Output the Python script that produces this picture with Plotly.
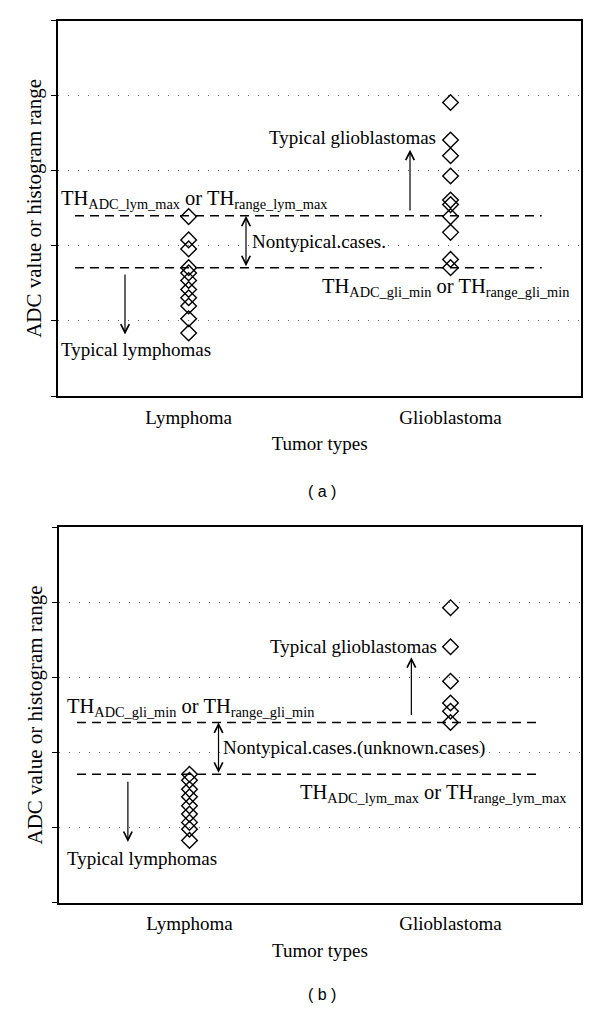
import plotly.graph_objects as go

categories = ["Lymphoma", "Glioblastoma"]
y_ticks = [0, 1, 2, 3, 4, 5]

# panel (a)
lymphoma_a = [2.39, 2.08, 1.96, 1.71, 1.64, 1.54, 1.42, 1.31, 1.20, 1.03, 0.84]
glioblastoma_a = [3.91, 3.41, 3.20, 2.93, 2.61, 2.55, 2.39, 2.18, 1.82, 1.71]
th_upper_a = 2.40   # TH lym max
th_lower_a = 1.71   # TH gli min

# panel (b)
lymphoma_b = [1.71, 1.63, 1.51, 1.41, 1.29, 1.18, 1.07, 0.98, 0.83]
glioblastoma_b = [3.93, 3.41, 2.95, 2.66, 2.55, 2.40]
th_upper_b = 2.40   # TH gli min
th_lower_b = 1.71   # TH lym max

lab_lym = "TH<sub>ADC_lym_max</sub> or TH<sub>range_lym_max</sub>"
lab_gli = "TH<sub>ADC_gli_min</sub> or TH<sub>range_gli_min</sub>"

SERIF = "Liberation Serif"
fs = 19
fs_th = 20.5

fig = go.Figure()

marker = dict(symbol="diamond-open", size=12, color="black", line=dict(width=1.4, color="black"))

for xa, ya, lym, gli in [("x", "y", lymphoma_a, glioblastoma_a), ("x2", "y2", lymphoma_b, glioblastoma_b)]:
    fig.add_trace(go.Scatter(x=[categories[0]] * len(lym), y=lym, mode="markers",
                             marker=marker, xaxis=xa, yaxis=ya, showlegend=False, cliponaxis=False))
    fig.add_trace(go.Scatter(x=[categories[1]] * len(gli), y=gli, mode="markers",
                             marker=marker, xaxis=xa, yaxis=ya, showlegend=False, cliponaxis=False))

xax = dict(type="category", categoryorder="array", categoryarray=categories, range=[-0.5, 1.5],
           showline=True, mirror=True, linecolor="black", linewidth=1.5, ticks="", showgrid=False,
           zeroline=False, tickfont=dict(size=fs), ticklabelstandoff=3,
           title=dict(text="Tumor types", font=dict(size=fs), standoff=10))
yax = dict(range=[0, 5], tickvals=y_ticks, showticklabels=False, ticks="outside", ticklen=5,
           tickcolor="black", tickwidth=1.2, showline=True, mirror=True, linecolor="black", linewidth=1.5,
           showgrid=True, gridcolor="#666666", gridwidth=1, griddash="1px,9px", zeroline=False,
           title=dict(text="ADC value or histogram range", font=dict(size=21), standoff=4))

# the page body keeps an 8px margin, so the figure is 16px smaller than the window
fig.update_layout(
    width=584, height=997, autosize=False,
    margin=dict(l=0, r=0, t=0, b=0),
    paper_bgcolor="white", plot_bgcolor="white",
    font=dict(family=SERIF, color="black", size=fs),
    xaxis=dict(xax, domain=[0.0851, 0.9820], anchor="y"),
    yaxis=dict(yax, domain=[0.6108, 0.9873], anchor="x"),
    xaxis2=dict(xax, domain=[0.0873, 0.9812], anchor="y2"),
    yaxis2=dict(yax, domain=[0.1026, 0.4791], anchor="x2"),
)

dash = dict(color="black", width=1.5, dash="9px,6px")
for xr, yr, ths, x0, x1 in [("x domain", "y", [th_upper_a, th_lower_a], 0.033, 0.924),
                            ("x2 domain", "y2", [th_upper_b, th_lower_b], 0.0345, 0.925)]:
    for th in ths:
        fig.add_shape(type="line", xref=xr, yref=yr, x0=x0, x1=x1, y0=th, y1=th, line=dash)


def text(xr, yr, x, y, s, anchor="left", size=fs):
    fig.add_annotation(xref=xr, yref=yr, x=x, y=y, text=s, showarrow=False,
                       xanchor=anchor, yanchor="middle", font=dict(size=size))


def arrow(xr, yr, x, y_tail, y_head, both=False):
    fig.add_annotation(xref=xr, yref=yr, axref=xr, ayref=yr, x=x, y=y_head, ax=x, ay=y_tail,
                       text="", showarrow=True, arrowhead=5, startarrowhead=5,
                       arrowside="end+start" if both else "end",
                       arrowsize=1.4, startarrowsize=1.4, arrowwidth=1.2, arrowcolor="black",
                       standoff=0, startstandoff=0)


# panel (a)
text("x domain", "y", 0.003, 2.62, lab_lym, size=fs_th)
text("x domain", "y", 0.727, 3.44, "Typical glioblastomas", "right")
arrow("x domain", "y", 0.6726, 2.45, 3.28)
arrow("x domain", "y", 0.3595, th_lower_a, th_upper_a, both=True)
text("x domain", "y", 0.368, 2.06, "Nontypical.cases.")
text("x domain", "y", 0.500, 1.45, lab_gli, size=fs_th)
arrow("x domain", "y", 0.1285, 1.64, 0.82)
text("x domain", "y", 0.003, 0.62, "Typical lymphomas")

# panel (b)
text("x2 domain", "y2", 0.012, 2.60, lab_gli, size=fs_th)
text("x2 domain", "y2", 0.727, 3.41, "Typical glioblastomas", "right")
arrow("x2 domain", "y2", 0.675, 2.48, 3.27)
arrow("x2 domain", "y2", 0.3056, th_lower_b, th_upper_b, both=True)
text("x2 domain", "y2", 0.310, 2.06, "Nontypical.cases.(unknown.cases)")
text("x2 domain", "y2", 0.457, 1.46, lab_lym, size=fs_th)
arrow("x2 domain", "y2", 0.132, 1.63, 0.81)
text("x2 domain", "y2", 0.012, 0.59, "Typical lymphomas")

for lab, yp, ya in [("( a )", 0.5148, "middle"), ("( b )", 0.0, "bottom")]:
    fig.add_annotation(xref="paper", yref="paper", x=0.5377, y=yp, text=lab, showarrow=False,
                       xanchor="center", yanchor=ya,
                       font=dict(family="Liberation Sans", size=16))

fig.write_html("out.html")
